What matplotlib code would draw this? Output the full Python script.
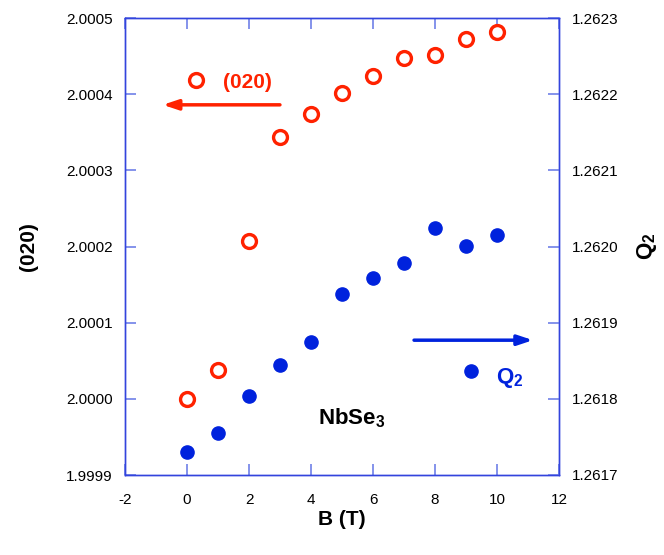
import matplotlib
matplotlib.use("Agg")
import matplotlib.pyplot as plt

# field values (T)
field = [0, 1, 2, 3, 4, 5, 6, 7, 8, 9, 10]
# (020) peak position, left axis
peak_020 = [2.00000, 2.000038, 2.000207, 2.000344, 2.000374, 2.000401,
            2.000424, 2.000447, 2.000452, 2.000473, 2.000481]
# Q2 wave vector, right axis
q2 = [1.261730, 1.261755, 1.261804, 1.261844, 1.261875, 1.261938,
      1.261959, 1.261978, 1.262024, 1.262001, 1.262015]

left_ticks = [1.9999, 2.0000, 2.0001, 2.0002, 2.0003, 2.0004, 2.0005]
right_ticks = [1.2617, 1.2618, 1.2619, 1.2620, 1.2621, 1.2622, 1.2623]
x_ticks = [-2, 0, 2, 4, 6, 8, 10, 12]

RED = "#ff2200"
BLUE = "#0022dd"
FRAME = "#3344dd"
TICK = "#7080e8"

plt.rcParams["font.family"] = ["Liberation Sans", "DejaVu Sans"]
plt.rcParams["mathtext.fontset"] = "custom"
plt.rcParams["mathtext.rm"] = "Liberation Sans"
plt.rcParams["mathtext.bf"] = "Liberation Sans:bold"
plt.rcParams["axes.unicode_minus"] = False

fig, ax = plt.subplots(figsize=(6.64, 5.55), dpi=100)
fig.subplots_adjust(left=125 / 664, right=559 / 664, top=1 - 18 / 555, bottom=1 - 475 / 555)
ax2 = ax.twinx()

ax.plot(field, peak_020, "o", mfc="white", mec=RED, mew=2.4, ms=10, zorder=3)
ax2.plot(field, q2, "o", color=BLUE, ms=9.5, zorder=3)

ax.set_xlim(-2, 12)
ax.set_ylim(1.9999, 2.0005)
ax2.set_ylim(1.2617, 1.2623)
ax.set_xticks(x_ticks)
ax.set_yticks(left_ticks)
ax.set_yticklabels([f"{v:.4f}" for v in left_ticks])
ax2.set_yticks(right_ticks)
ax2.set_yticklabels([f"{v:.4f}" for v in right_ticks])

for a in (ax, ax2):
    for s in a.spines.values():
        s.set_color(FRAME)
        s.set_linewidth(1.0)
ax.tick_params(axis="both", direction="in", length=8, width=1.2, color=TICK,
               labelsize=11, top=True)
ax.tick_params(axis="y", pad=9)
ax.tick_params(axis="x", pad=13)
ax2.tick_params(axis="y", direction="in", length=8, width=1.2, color=TICK,
                labelsize=11, pad=9)

ax.set_xlabel("B (T)", fontsize=15, fontweight="bold", va="center")
ax.xaxis.set_label_coords(0.5, -0.097)
ax.set_ylabel("(020)", fontsize=15, fontweight="bold", va="center")
ax.yaxis.set_label_coords(-0.223, 0.5)
ax2.set_ylabel(r"$\mathbf{Q_2}$", fontsize=16, rotation=90, va="center")
ax2.yaxis.set_label_coords(1.203, 0.5)

# in-plot labels and arrows
ax.plot([0.29], [2.000419], "o", mfc="white", mec=RED, mew=2.4, ms=10, clip_on=False)
ax.text(0.281, 0.858, "(020)", transform=ax.transAxes, color=RED,
        fontsize=15, fontweight="bold", ha="center", va="center")
ax.annotate("", xy=(0.087, 0.81), xytext=(0.357, 0.81), xycoords="axes fraction",
            arrowprops=dict(arrowstyle="-|>,head_length=0.9,head_width=0.3",
                            color=RED, lw=2.5, shrinkA=0, shrinkB=0))
ax2.plot([9.16], [1.261837], "o", color=BLUE, ms=9.5)
ax.text(0.887, 0.212, r"$\mathbf{Q_2}$", transform=ax.transAxes, color=BLUE,
        fontsize=16, ha="center", va="center")
ax.annotate("", xy=(0.94, 0.295), xytext=(0.666, 0.295), xycoords="axes fraction",
            arrowprops=dict(arrowstyle="-|>,head_length=0.9,head_width=0.3",
                            color=BLUE, lw=2.5, shrinkA=0, shrinkB=0))
ax.text(0.523, 0.125, r"$\mathbf{NbSe_3}$", transform=ax.transAxes, color="black",
        fontsize=16, ha="center", va="center")

fig.savefig("out.png", dpi=100)
